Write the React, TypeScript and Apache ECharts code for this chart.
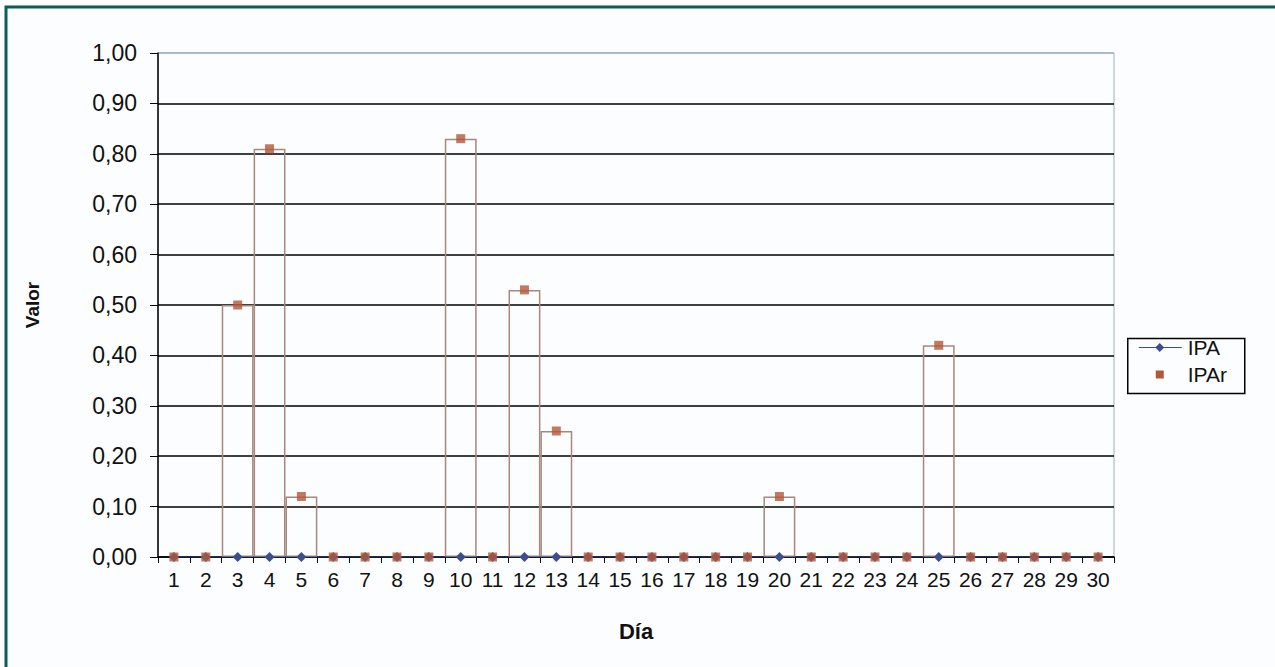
import React, { useEffect, useRef } from "react";
import * as echarts from "echarts";

const dias = Array.from({ length: 30 }, (_, i) => String(i + 1));
const ipa = [0,0,0,0,0,0,0,0,0,0,0,0,0,0,0,0,0,0,0,0,0,0,0,0,0,0,0,0,0,0];
const ipar = [0,0,0.50,0.81,0.12,0,0,0,0,0.83,0,0.53,0.25,0,0,0,0,0,0,0.12,0,0,0,0,0.42,0,0,0,0,0];
const yTicks = [0,0.1,0.2,0.3,0.4,0.5,0.6,0.7,0.8,0.9,1.0];
const legendNames = ["IPA", "IPAr"];

const FONT = "'Liberation Sans', Arial, sans-serif";
const BLUE = "#3b4f8f";
const BROWN = "#b1583a";

export default function App() {
  const ref = useRef<HTMLDivElement>(null);
  useEffect(() => {
    const chart = echarts.init(ref.current!, null, { renderer: "svg" });
    const splitColors = yTicks.map((t, i) => (i === yTicks.length - 1 ? "#9fb2bd" : "#000"));
    const lx = 1127, ly = 337;
    chart.setOption({
      animation: false,
      backgroundColor: "#fcfdfe",
      textStyle: { fontFamily: FONT },
      graphic: [
        {
          type: "rect",
          shape: { x: 6, y: 7, width: 1300, height: 700 },
          style: { fill: "none", stroke: "#0b5e56", lineWidth: 3 },
          silent: true,
        },
        {
          type: "group",
          left: lx,
          top: ly,
          children: [
            { type: "rect", shape: { x: 0, y: 0, width: 117, height: 55 }, style: { fill: "#fcfdfe", stroke: "#000", lineWidth: 1.5 } },
            { type: "line", shape: { x1: 11, y1: 9, x2: 54, y2: 9 }, style: { stroke: BLUE, lineWidth: 1.2 } },
            { type: "polygon", shape: { points: [[32, 4.5], [36.5, 9], [32, 13.5], [27.5, 9]] }, style: { fill: BLUE } },
            { type: "rect", shape: { x: 28, y: 32, width: 8, height: 8 }, style: { fill: BROWN } },
            { type: "text", x: 60, y: 9, style: { text: legendNames[0], fontSize: 21, fill: "#111", fontFamily: FONT, verticalAlign: "middle" } },
            { type: "text", x: 60, y: 36, style: { text: legendNames[1], fontSize: 21, fill: "#111", fontFamily: FONT, verticalAlign: "middle" } },
          ],
        },
      ],
      grid: { left: 158, top: 53, right: 161, bottom: 110, show: true, borderColor: "#9fb2bd", borderWidth: 1, backgroundColor: "transparent" },
      xAxis: {
        type: "category",
        data: dias,
        name: "Día",
        nameLocation: "middle",
        nameGap: 63,
        nameTextStyle: { fontSize: 22, fontWeight: "bold", color: "#111", fontFamily: FONT },
        axisLine: { lineStyle: { color: "#000", width: 1.5 } },
        axisTick: { show: true, length: 6, lineStyle: { color: "#000" } },
        axisLabel: { fontSize: 21, color: "#111", margin: 12, interval: 0, fontFamily: FONT },
        splitLine: { show: false },
      },
      yAxis: {
        type: "value",
        min: 0,
        max: 1,
        interval: 0.1,
        name: "Valor",
        nameLocation: "middle",
        nameGap: 116,
        nameTextStyle: { fontSize: 19, fontWeight: "bold", color: "#111", fontFamily: FONT },
        axisLine: { show: true, lineStyle: { color: "#000", width: 1.5 } },
        axisTick: { show: true, length: 8, lineStyle: { color: "#000" } },
        axisLabel: {
          fontSize: 23,
          color: "#111",
          margin: 21,
          fontFamily: FONT,
          formatter: (v: number) => v.toFixed(2).replace(".", ","),
        },
        splitLine: { show: true, lineStyle: { color: splitColors, width: 1.5 } },
      },
      series: [
        {
          name: "IPArBar",
          type: "bar",
          data: ipar.map((v) => (v === 0 ? null : v)),
          barWidth: "100%",
          itemStyle: { color: "transparent", borderColor: "#a8887c", borderWidth: 1.5 },
          silent: true,
          z: 1,
        },
        {
          name: legendNames[0],
          type: "line",
          data: ipa,
          symbol: "diamond",
          symbolSize: 10,
          lineStyle: { color: BLUE, width: 1 },
          itemStyle: { color: BLUE },
          z: 3,
        },
        {
          name: legendNames[1],
          type: "scatter",
          data: ipar,
          symbol: "rect",
          symbolSize: 9,
          itemStyle: { color: BROWN },
          z: 4,
        },
      ],
    });
    return () => chart.dispose();
  }, []);
  return (
    <div
      ref={ref}
      style={{ position: "fixed", left: 0, top: 0, width: 1275, height: 667 }}
    />
  );
}
